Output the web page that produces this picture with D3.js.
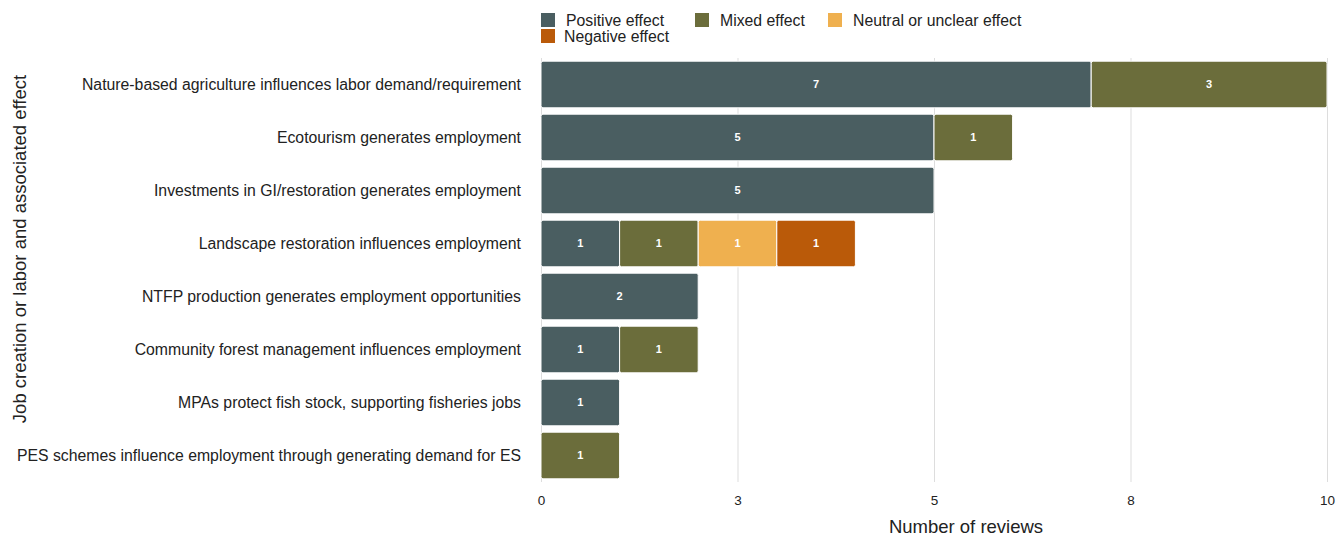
<!DOCTYPE html>
<html>
<head>
<meta charset="utf-8">
<script src="https://cdn.jsdelivr.net/npm/d3@7"></script>
<style>
  body { margin: 0; background: #fff; font-family: "Liberation Sans", Arial, sans-serif; }
  .grid line { stroke: #ddd; }
  .grid path { display: none; }
</style>
</head>
<body>
<script>
// data
var categories = [
    'Nature-based agriculture influences labor demand/requirement',
    'Ecotourism generates employment',
    'Investments in GI/restoration generates employment',
    'Landscape restoration influences employment',
    'NTFP production generates employment opportunities',
    'Community forest management influences employment',
    'MPAs protect fish stock, supporting fisheries jobs',
    'PES schemes influence employment through generating demand for ES'
];
var effects = ['Positive effect', 'Mixed effect', 'Neutral or unclear effect', 'Negative effect'];
var colors = ['#4a5e61', '#6b6d3b', '#efb04f', '#ba5a09'];
var positive = [7, 5, 5, 1, 2, 1, 1, 0];
var mixed    = [3, 1, 0, 1, 0, 1, 0, 1];
var neutral  = [0, 0, 0, 1, 0, 0, 0, 0];
var negative = [0, 0, 0, 1, 0, 0, 0, 0];
var xTicks = [0, 2.5, 5, 7.5, 10];
//end data

var width = 1340, height = 536;
var margin = {left: 541, right: 13, top: 58, bottom: 54};

var svg = d3.select('body').append('svg')
    .attr('width', width)
    .attr('height', height);

var x = d3.scaleLinear()
    .domain([0, 10])
    .range([margin.left, width - margin.right]);
var y = d3.scaleBand()
    .domain(categories)
    .range([margin.top, height - margin.bottom])
    .paddingInner(0.12)
    .paddingOuter(0.06);

// gridlines
svg.append('g')
    .attr('class', 'grid')
    .attr('transform', 'translate(0,' + (height - margin.bottom) + ')')
    .call(d3.axisBottom(x).tickValues(xTicks).tickSize(-(height - margin.bottom - margin.top)).tickFormat(''));

// stacked series
var rows = categories.map(function (c, i) {
    return {cat: c, s0: positive[i], s1: mixed[i], s2: neutral[i], s3: negative[i]};
});
var stack = d3.stack().keys(['s0', 's1', 's2', 's3']);
var series = stack(rows);

var gBars = svg.append('g').attr('class', 'bars');
series.forEach(function (s, k) {
    var segs = s.filter(function (d) { return d[1] - d[0] > 0; });
    gBars.selectAll('rect.s' + k)
        .data(segs)
        .enter().append('rect')
        .attr('class', 's' + k)
        .attr('x', function (d) { return x(d[0]); })
        .attr('y', function (d) { return y(d.data.cat); })
        .attr('width', function (d) { return x(d[1]) - x(d[0]); })
        .attr('height', y.bandwidth())
        .attr('rx', 2)
        .attr('fill', colors[k])
        .attr('stroke', '#fff')
        .attr('stroke-width', 1);
    gBars.selectAll('text.s' + k)
        .data(segs)
        .enter().append('text')
        .attr('class', 's' + k)
        .attr('x', function (d) { return (x(d[0]) + x(d[1])) / 2; })
        .attr('y', function (d) { return y(d.data.cat) + y.bandwidth() / 2; })
        .attr('dy', '0.35em')
        .attr('text-anchor', 'middle')
        .attr('fill', '#fff')
        .style('font-size', '11px')
        .style('font-weight', 'bold')
        .text(function (d) { return d[1] - d[0]; });
});

// y axis labels
var yAxis = svg.append('g')
    .attr('transform', 'translate(' + (margin.left - 20) + ',0)')
    .call(d3.axisLeft(y).tickSize(0).tickPadding(0));
yAxis.select('.domain').remove();
yAxis.selectAll('text')
    .style('font-family', '"Liberation Sans", Arial, sans-serif')
    .style('font-size', '15.8px')
    .attr('fill', '#222');

// x axis labels
var xAxis = svg.append('g')
    .attr('transform', 'translate(0,' + (height - margin.bottom) + ')')
    .call(d3.axisBottom(x).tickValues(xTicks).tickSize(0).tickPadding(13).tickFormat(d3.format('.0f')));
xAxis.select('.domain').remove();
xAxis.selectAll('text')
    .style('font-family', '"Liberation Sans", Arial, sans-serif')
    .style('font-size', '13.5px')
    .attr('fill', '#222');

// axis titles
svg.append('text')
    .attr('x', 966)
    .attr('y', 533)
    .attr('text-anchor', 'middle')
    .style('font-size', '18.5px')
    .attr('fill', '#222')
    .text('Number of reviews');
svg.append('text')
    .attr('transform', 'translate(26,' + 249 + ') rotate(-90)')
    .attr('text-anchor', 'middle')
    .style('font-size', '18.5px')
    .attr('fill', '#222')
    .text('Job creation or labor and associated effect');

// legend
var legendPos = [[541, 20], [695, 20], [828, 20], [541, 36]];
var legend = svg.append('g').attr('class', 'legend');
var items = legend.selectAll('g')
    .data(effects)
    .enter().append('g')
    .attr('transform', function (d, i) { return 'translate(' + legendPos[i][0] + ',' + legendPos[i][1] + ')'; });
items.append('rect')
    .attr('x', 0).attr('y', -7)
    .attr('width', 14).attr('height', 14)
    .attr('fill', function (d, i) { return colors[i]; });
items.append('text')
    .attr('x', function (d, i) { return i === 3 ? 23 : 25; })
    .attr('dy', '0.35em')
    .style('font-size', '15.8px')
    .attr('fill', '#222')
    .text(function (d) { return d; });
</script>
</body>
</html>
